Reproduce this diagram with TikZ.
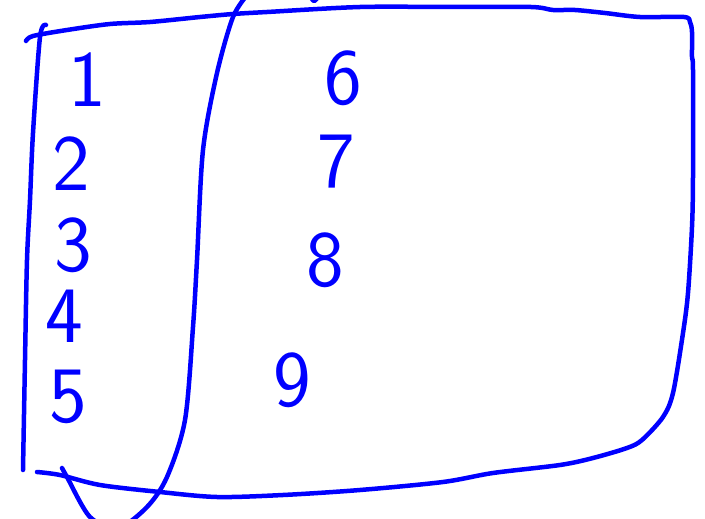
\documentclass[tikz,border=0pt]{standalone}
\usepackage{fontspec}
\usepackage{tikz}

\tikzset{
    pen/.style={draw=blue,line width=4.5pt,line cap=round,line join=round},
    digit/.style={text=blue,inner sep=0pt,font=\sffamily\fontsize{80}{80}\selectfont}
}

\begin{document}
\begin{tikzpicture}[x=1pt,y=-1pt]
    \useasboundingbox (0,0) rectangle (705,519);

    % outer box: top, right and bottom in one stroke
    \draw[pen] plot[smooth] coordinates {(26,41) (33,36) (67,30) (110,24) (150,22) (200,17) (233,14) (267,12) (360,7) (450,7) (531,7) (553,10) (575,10) (605,13) (640,17) (684,17) (690,22) (692,32) (692,57) (693,70) (693,177) (692,227) (688,293) (683,333) (673,393) (663,417) (642,440) (627,448) (593,458) (560,465) (493,473) (443,482) (360,490) (283,495) (217,497) (160,492) (100,485) (60,475) (37,472)};
    % left side
    \draw[pen] plot[smooth] coordinates {(46,25) (40,37) (33,133) (30,200) (27,260) (25,360) (23,470)};
    % inner loop around the left column
    \draw[pen] plot[smooth] coordinates {(248,-6) (233,17) (217,73) (203,150) (197,260) (193,327) (185,420) (167,477) (147,507) (118,528) (90,517) (67,477) (62,468)};
    \draw[pen] plot[smooth] coordinates {(310,-4) (314,1) (318,-3)};

    \node[digit] (n1) at (87,80) {1};
    \node[digit] (n2) at (71,164) {2};
    \node[digit] (n3) at (73,245) {3};
    \node[digit] (n4) at (64,316) {4};
    \node[digit] (n5) at (68,397) {5};

    \node[digit] (n6) at (343,78) {6};
    \node[digit] (n7) at (336,162) {7};
    \node[digit] (n8) at (325,260) {8};
    \node[digit] (n9) at (292,380) {9};
\end{tikzpicture}
\end{document}
